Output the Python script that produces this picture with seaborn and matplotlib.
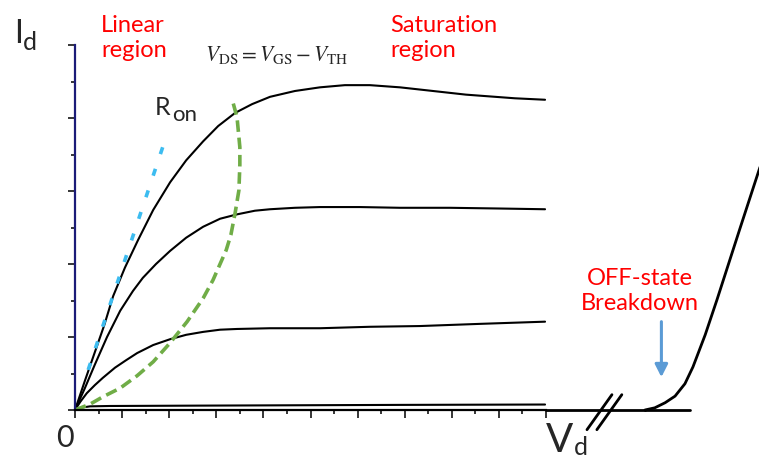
import matplotlib
matplotlib.use("Agg")
import matplotlib.pyplot as plt
import pandas as pd
import seaborn as sns

# Output characteristics: Vd in x-tick divisions, Id in y-tick divisions
vd_g1 = [0, 0.21, 0.42, 0.62, 0.81, 1.06, 1.34, 1.66, 2.02, 2.36, 2.72, 3.04,
         3.40, 3.76, 4.14, 4.67, 5.20, 5.73, 6.26, 6.90, 7.60, 8.30, 9.34, 9.98]
id_g1 = [0, 0.40, 0.79, 1.16, 1.56, 1.95, 2.33, 2.74, 3.12, 3.42, 3.68, 3.89,
         4.07, 4.19, 4.29, 4.37, 4.42, 4.45, 4.45, 4.42, 4.37, 4.32, 4.27, 4.25]

vd_g2 = [0, 0.21, 0.42, 0.68, 0.96, 1.23, 1.44, 1.72, 2.02, 2.36, 2.72, 3.08,
         3.44, 3.82, 4.14, 4.67, 5.20, 6.05, 6.90, 7.96, 9.02, 9.98]
id_g2 = [0, 0.30, 0.62, 1.00, 1.36, 1.63, 1.81, 2.00, 2.18, 2.36, 2.51, 2.62,
         2.68, 2.73, 2.75, 2.77, 2.78, 2.78, 2.77, 2.77, 2.76, 2.75]

vd_g3 = [0, 0.11, 0.25, 0.42, 0.59, 0.85, 1.08, 1.32, 1.66, 2.02, 2.36, 2.72,
         3.08, 3.44, 4.14, 5.20, 6.26, 7.32, 8.60, 9.98]
id_g3 = [0, 0.11, 0.23, 0.34, 0.44, 0.58, 0.68, 0.78, 0.89, 0.97, 1.03, 1.07,
         1.10, 1.11, 1.12, 1.12, 1.14, 1.15, 1.18, 1.21]

vd_g4 = [0, 0.11, 0.32, 0.74, 2.65, 4.78, 6.90, 9.98]
id_g4 = [0, 0.03, 0.05, 0.055, 0.06, 0.065, 0.07, 0.075]

# Pinch-off locus V_DS = V_GS - V_TH
vd_sat = [0, 0.32, 0.59, 0.96, 1.32, 1.66, 2.02, 2.38, 2.72, 2.93, 3.08, 3.21,
          3.31, 3.40, 3.48, 3.50, 3.50, 3.44, 3.33]
id_sat = [0, 0.08, 0.18, 0.30, 0.47, 0.66, 0.92, 1.21, 1.53, 1.78, 2.00, 2.19,
          2.40, 2.70, 3.01, 3.36, 3.60, 4.01, 4.27]

# On-resistance slope
vd_ron = [0.28, 1.95]
id_ron = [0.55, 3.77]

# OFF-state leakage and avalanche breakdown (after the axis break)
vd_off = [10.0, 12.10]
id_off = [0.0, 0.0]
vd_bd = [12.10, 12.31, 12.53, 12.74, 12.95, 13.12, 13.38, 13.63, 14.12, 14.59]
id_bd = [0.0, 0.03, 0.10, 0.19, 0.36, 0.59, 1.03, 1.51, 2.49, 3.42]
vd_axis_end = 13.06

# Axis break slashes
brk_x = [[10.87, 11.40], [11.08, 11.61]]
brk_y = [-0.27, 0.21]

x_major = list(range(0, 11))
x_minor = [i + 0.5 for i in range(10)]
y_major = list(range(0, 6))
y_minor = [i + 0.5 for i in range(5)]

sns.set_style("white")
plt.rcParams["font.family"] = ["Lato", "DejaVu Sans"]
plt.rcParams["mathtext.fontset"] = "stix"

W, H = 759, 459
fig = plt.figure(figsize=(W / 100, H / 100), dpi=100)
ax = fig.add_axes([75 / W, (H - 410) / H, 471 / W, 365 / H])
ax.set_xlim(0, 10)
ax.set_ylim(0, 5)

curve_kw = dict(color="black", linewidth=1.5, estimator=None, sort=False, ax=ax)
for vx, iy in [(vd_g1, id_g1), (vd_g2, id_g2), (vd_g3, id_g3), (vd_g4, id_g4)]:
    sns.lineplot(data=pd.DataFrame({"vd": vx, "id": iy}), x="vd", y="id", **curve_kw)
    ax.lines[-1].set_solid_joinstyle("round")

sns.lineplot(data=pd.DataFrame({"vd": vd_sat, "id": id_sat}), x="vd", y="id",
             color="#70ad47", linewidth=2.6, estimator=None, sort=False, ax=ax)
ax.lines[-1].set_dashes((3.2, 1.6))

sns.lineplot(data=pd.DataFrame({"vd": vd_ron, "id": id_ron}), x="vd", y="id",
             color="#3cbcf0", linewidth=2.6, estimator=None, sort=False, ax=ax)
ax.lines[-1].set_dashes((2.0, 4.3))

sns.lineplot(data=pd.DataFrame({"vd": vd_off, "id": id_off}), x="vd", y="id",
             color="black", linewidth=2.0, estimator=None, sort=False, ax=ax)
ax.lines[-1].set_clip_on(False)
ax.plot([vd_off[-1], vd_axis_end], [0, 0], color="black", lw=2.0, clip_on=False)
sns.lineplot(data=pd.DataFrame({"vd": vd_bd, "id": id_bd}), x="vd", y="id",
             color="black", linewidth=2.0, estimator=None, sort=False, ax=ax)
ax.lines[-1].set_clip_on(False)
ax.lines[-1].set_solid_joinstyle("round")

for bx in brk_x:
    ax.plot(bx, brk_y, color="black", lw=2.0, clip_on=False)

ax.annotate("", xy=(12.45, 0.45), xytext=(12.45, 1.21),
            arrowprops=dict(arrowstyle="-|>,head_length=0.75,head_width=0.38",
                            color="#5b9bd5", lw=2.2, shrinkA=0, shrinkB=0),
            annotation_clip=False)

# Axes
for side in ("top", "right"):
    ax.spines[side].set_visible(False)
ax.spines["left"].set_color("#1c1c78")
ax.spines["left"].set_linewidth(1.6)
ax.spines["bottom"].set_color("black")
ax.spines["bottom"].set_linewidth(1.6)
ax.set_xticks(x_major)
ax.set_xticks(x_minor, minor=True)
ax.set_yticks(y_major)
ax.set_yticks(y_minor, minor=True)
ax.set_xticklabels([])
ax.set_yticklabels([])
ax.tick_params(which="both", bottom=True, left=True, top=False, right=False,
               direction="out", width=1.1, color="black")
ax.tick_params(axis="x", which="major", length=5.5)
ax.tick_params(axis="x", which="minor", length=3.2)
ax.tick_params(axis="y", which="major", length=5.0)
ax.tick_params(axis="y", which="minor", length=2.8)
ax.set_xlabel("")
ax.set_ylabel("")


def fpos(x, y):
    return x / W, 1 - y / H


red = "#ff0000"
fig.text(*fpos(14, 43), "I", fontsize=23, va="baseline", ha="left")
fig.text(*fpos(23, 50), "d", fontsize=18, va="baseline", ha="left")
fig.text(*fpos(56, 447), "0", fontsize=22, va="baseline", ha="left")
fig.text(*fpos(546, 452), "V", fontsize=29, va="baseline", ha="left")
fig.text(*fpos(574, 455), "d", fontsize=18, va="baseline", ha="left")
fig.text(*fpos(155, 115), "R", fontsize=18, va="baseline", ha="left")
fig.text(*fpos(172, 121), "on", fontsize=16, va="baseline", ha="left")

fig.text(*fpos(101, 57), "Linear\nregion", fontsize=17, color=red,
         va="baseline", ha="left", linespacing=1.22)
fig.text(*fpos(390, 57), "Saturation\nregion", fontsize=17, color=red,
         va="baseline", ha="left", linespacing=1.22)
fig.text(*fpos(640, 310), "OFF-state\nBreakdown", fontsize=17, color=red,
         va="baseline", ha="center", linespacing=1.22, multialignment="center")
fig.text(*fpos(205, 61),
         r"$V_{\mathrm{DS}} = V_{\mathrm{GS}} - V_{\mathrm{TH}}$",
         fontsize=15.5, va="baseline", ha="left")

fig.savefig("out.png", dpi=100)
